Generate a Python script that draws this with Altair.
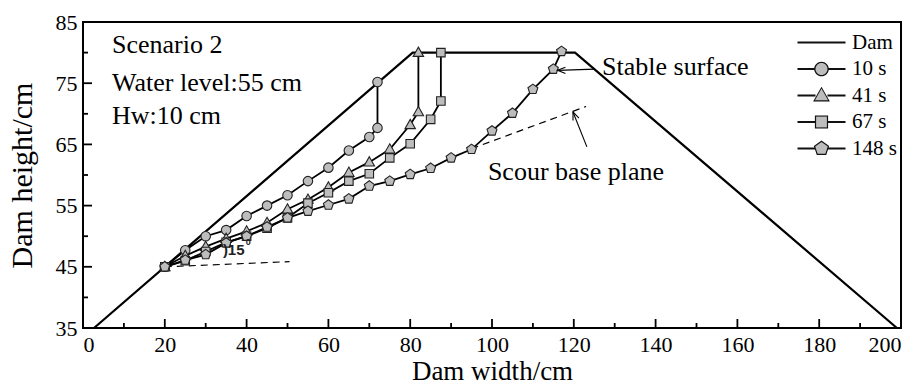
import altair as alt
import pandas as pd
import math

SERIF = "Liberation Serif"
SANS = "Liberation Sans"

# ---- data ----
dam_x = [2.7, 80.6, 120.3, 199.0]
dam_y = [35, 80, 80, 35]

s10_x = [20, 25, 30, 35, 40, 45, 50, 55, 60, 65, 70, 72, 72]
s10_y = [45, 47.7, 50, 51, 53.3, 55, 56.7, 59, 61.2, 64, 66.2, 67.7, 75.2]

s41_x = [20, 25, 30, 35, 40, 45, 50, 55, 60, 65, 70, 75, 80, 82, 82]
s41_y = [45, 46.8, 48.3, 49.6, 50.8, 52.2, 54.4, 56, 58, 60.4, 62.1, 64.2, 68.2, 70.3, 80]

s67_x = [20, 25, 30, 35, 40, 45, 50, 55, 60, 65, 70, 75, 80, 85, 87.5, 87.5]
s67_y = [45, 46, 47.5, 49, 50, 51.3, 53, 55.4, 57.1, 59, 60.2, 62.8, 65.1, 69.1, 72.1, 80]

s148_x = [20, 25, 30, 35, 40, 45, 50, 55, 60, 65, 70, 75, 80, 85, 90, 95, 100, 105, 110, 115, 117]
s148_y = [45, 46.1, 47, 48.9, 50, 51.5, 53, 54.1, 55.1, 56.1, 58.2, 59, 60.1, 61.1, 62.8, 64.2, 67.2, 70.1, 74, 77.3, 80.2]

legend_names = ["Dam", "10 s", "41 s", "67 s", "148 s"]

# dashed reference lines
low_x = [20, 50.5]
low_y = [45, 45.85]
plane_x = [95, 123]
plane_y = [64.3, 71.2]

# arrows (tail -> tip)
arr_x = [125.2, 123.2]
arr_y = [77.3, 64.6]
arr_x2 = [116.0, 119.8]
arr_y2 = [77.1, 70.3]
arr_angle = [0, 68]

# annotations
ann_text = ["Scenario 2", "Water level:55 cm", "Hw:10 cm", "Stable surface", "Scour base plane"]
ann_x = [7.1, 7.1, 7.1, 126.9, 99.0]
ann_y = [79.9, 73.7, 68.3, 76.3, 59.2]

# ticks
x_major = list(range(0, 201, 20))
x_minor = list(range(10, 200, 20))
y_major = [35, 45, 55, 65, 75, 85]
y_minor = [40, 50, 60, 70, 80]

# ---- tables ----
def tab(name, xs, ys):
    return pd.DataFrame({"series": name, "x": xs, "y": ys, "idx": list(range(len(xs)))})

dam_df = tab("Dam", dam_x, dam_y)
ser_df = pd.concat([tab("10 s", s10_x, s10_y), tab("41 s", s41_x, s41_y),
                    tab("67 s", s67_x, s67_y), tab("148 s", s148_x, s148_y)], ignore_index=True)
dash_df = pd.concat([tab("low", low_x, low_y), tab("plane", plane_x, plane_y)], ignore_index=True)
arr_df = pd.DataFrame({"x": arr_x2, "y": arr_y2, "x2": arr_x, "y2": arr_y, "angle": arr_angle})
ann_df = pd.DataFrame({"t": ann_text, "x": ann_x, "y": ann_y})
legA_df = pd.DataFrame({"keyA": legend_names})
legB_df = pd.DataFrame({"keyB": legend_names})

W, H = 818, 306
xs = alt.Scale(domain=[0, 200], nice=False, zero=False)
ys = alt.Scale(domain=[35, 85], nice=False, zero=False)

x_axis = alt.Axis(values=x_major, ticks=False, domain=False, grid=False,
                  labelFont=SERIF, labelFontSize=22, labelColor="black", labelPadding=6,
                  title="Dam width/cm", titleFont=SERIF, titleFontSize=27, titleFontWeight="normal",
                  titleColor="black", titleY=51, titleBaseline="alphabetic")
y_axis = alt.Axis(values=y_major, ticks=False, domain=False, grid=False,
                  labelFont=SERIF, labelFontSize=22, labelColor="black", labelPadding=6,
                  title="Dam height/cm", titleFont=SERIF, titleFontSize=30, titleFontWeight="normal",
                  titleColor="black", titleAngle=270, titleX=-61, titleY=H / 2,
                  titleAlign="center", titleBaseline="middle")

X = alt.X("x:Q", scale=xs, axis=x_axis)
Y = alt.Y("y:Q", scale=ys, axis=y_axis)

# marker paths (Vega unit box -1..1)
def poly(pts, s=1.0):
    return "M" + "L".join(f"{a * s:.3f},{b * s:.3f}" for a, b in pts) + "Z"

def circ(r):
    return f"M{r},0A{r},{r},0,1,1,{-r},0A{r},{r},0,1,1,{r},0Z"

TRI_P = [(0, -1.15), (1.1, 0.8), (-1.1, 0.8)]
SQ_P = [(-0.9, -0.9), (0.9, -0.9), (0.9, 0.9), (-0.9, 0.9)]
PENT_P = [(1.1 * math.cos(math.radians(-90 + 72 * k)), 1.1 * math.sin(math.radians(-90 + 72 * k))) for k in range(5)]

marker_range = [circ(1), poly(TRI_P), poly(SQ_P), poly(PENT_P)]

# legend: black layer (lines + marker outlines), grey layer (marker interiors)
T = 0.17
BAR_L = poly([(-4, -T), (-1, -T), (-1, T), (-4, T)])
BAR_R = poly([(1, -T), (4, -T), (4, T), (1, T)])
BAR_FULL = poly([(-4, -T), (4, -T), (4, T), (-4, T)])
OUT = 1.22
legA_range = [BAR_FULL] + [BAR_L + BAR_R + m for m in
                           [circ(OUT), poly(TRI_P, OUT + 0.05), poly(SQ_P, OUT), poly(PENT_P, OUT)]]
legB_range = ["M0,0Z", circ(1), poly(TRI_P), poly(SQ_P), poly(PENT_P)]

dam = alt.Chart(dam_df).mark_line(color="black", strokeWidth=2.2).encode(x=X, y=Y, order="idx:Q")
lines = alt.Chart(ser_df).mark_line(color="black", strokeWidth=1.8).encode(
    x=X, y=Y, detail="series:N", order="idx:Q")
dashes = alt.Chart(dash_df).mark_line(color="black", strokeWidth=1.2, strokeDash=[7, 5]).encode(
    x=X, y=Y, detail="series:N", order="idx:Q")

points = alt.Chart(ser_df).mark_point(filled=False, size=90, fill="#bdbdbd", fillOpacity=1,
                                      stroke="#222222", strokeWidth=1.1, opacity=1).encode(
    x=X, y=Y,
    shape=alt.Shape("series:N", scale=alt.Scale(domain=legend_names[1:], range=marker_range),
                    legend=None))

def legend_def(label_opacity):
    return alt.Legend(title=None, orient="none", legendX=728, legendY=10,
                      labelFont=SERIF, labelFontSize=21, labelColor="black",
                      labelOpacity=label_opacity, symbolSize=144, symbolStrokeWidth=0,
                      symbolOpacity=1, labelOffset=20, rowPadding=4.5, padding=0)

legA = alt.Chart(legA_df).mark_point(filled=True, size=144, fill="#111111", strokeWidth=0,
                                     opacity=1, clip=True).encode(
    x=alt.value(-200), y=alt.value(-200),
    shape=alt.Shape("keyA:N", scale=alt.Scale(domain=legend_names, range=legA_range),
                    legend=legend_def(1)))
legB = alt.Chart(legB_df).mark_point(filled=True, size=144, fill="#bdbdbd", strokeWidth=0,
                                     opacity=1, clip=True).encode(
    x=alt.value(-200), y=alt.value(-200),
    shape=alt.Shape("keyB:N", scale=alt.Scale(domain=legend_names, range=legB_range),
                    legend=legend_def(0)))

shafts = alt.Chart(arr_df).mark_rule(color="black", strokeWidth=1.1).encode(
    x=X, y=Y, x2="x2:Q", y2="y2:Q")
heads = alt.Chart(arr_df).mark_point(shape="M2,-0.8L0,0L2,0.8", size=64, filled=False,
                                     stroke="black", strokeWidth=1.1, opacity=1).encode(
    x=X, y=Y, angle=alt.Angle("angle:Q", scale=None))

ann = alt.Chart(ann_df).mark_text(align="left", baseline="alphabetic", font=SERIF, fontSize=26,
                                  color="black").encode(x=X, y=Y, text="t:N")

ang_df = pd.DataFrame({"t": [")15"], "x": [34.2], "y": [47.7]})
sup_df = pd.DataFrame({"t": ["0"], "x": [39.8], "y": [49.0]})
ang = alt.Chart(ang_df).mark_text(align="left", baseline="middle", font=SANS, fontSize=15,
                                  fontWeight="bold", color="#222222").encode(x=X, y=Y, text="t:N")
sup = alt.Chart(sup_df).mark_text(align="left", baseline="middle", font=SANS, fontSize=9,
                                  fontWeight="bold", color="#222222").encode(x=X, y=Y, text="t:N")

xmaj = alt.Chart(pd.DataFrame({"x": x_major})).mark_rule(color="black", strokeWidth=1.8).encode(
    x=X, y=alt.value(H), y2=alt.value(H - 9))
xmin = alt.Chart(pd.DataFrame({"x": x_minor})).mark_rule(color="black", strokeWidth=1.8).encode(
    x=X, y=alt.value(H), y2=alt.value(H - 5))
ymaj = alt.Chart(pd.DataFrame({"y": y_major})).mark_rule(color="black", strokeWidth=1.8).encode(
    y=Y, x=alt.value(0), x2=alt.value(9))
ymin = alt.Chart(pd.DataFrame({"y": y_minor})).mark_rule(color="black", strokeWidth=1.8).encode(
    y=Y, x=alt.value(0), x2=alt.value(5))

chart = alt.layer(xmaj, xmin, ymaj, ymin, dam, dashes, lines, points, shafts, heads, ann, ang, sup,
                  legA, legB).resolve_scale(shape="independent").properties(
    width=W, height=H,
    padding={"left": 83, "top": 22, "right": 18, "bottom": 60},
    autosize=alt.AutoSizeParams(type="none"),
    background="white",
).configure_view(stroke="black", strokeWidth=2)

chart.save("out.html", embed_options={"renderer": "svg", "actions": False})
